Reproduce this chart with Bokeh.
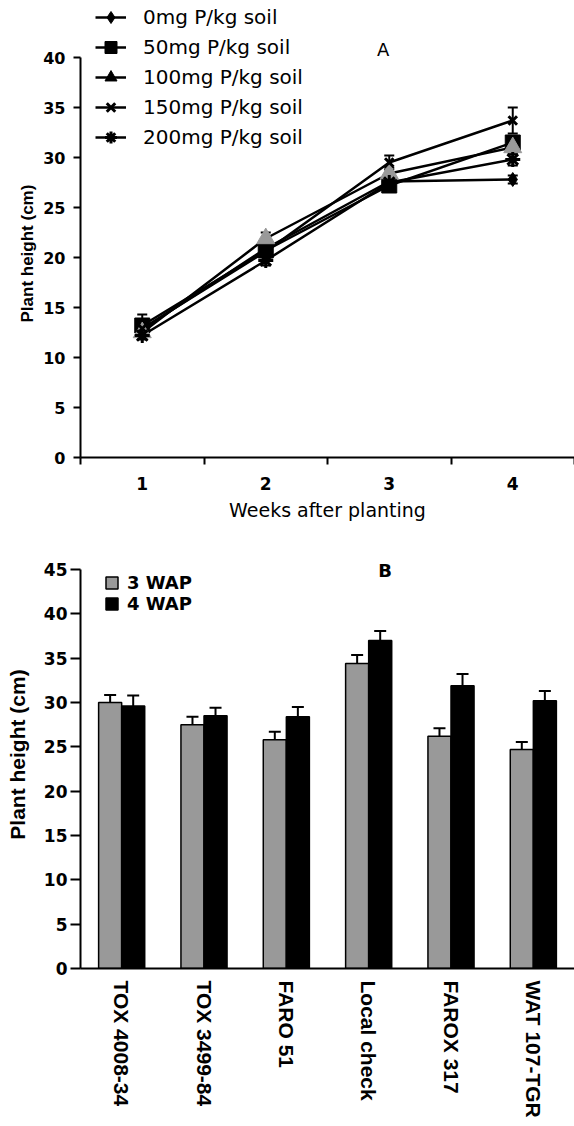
from bokeh.plotting import figure
from bokeh.models import (Range1d, FactorRange, FixedTicker, Legend, LegendItem, Label,
                          ColumnDataSource, Whisker, TeeHead, Title)
from bokeh.transform import dodge
from bokeh.layouts import column
from bokeh.embed import file_html
from bokeh.resources import INLINE

# ---------------- data: chart A ----------------
weeks = [1, 2, 3, 4]
series_names = ["0mg P/kg soil", "50mg P/kg soil", "100mg P/kg soil",
                "150mg P/kg soil", "200mg P/kg soil"]
p0 = [12.8, 20.9, 27.6, 27.8]
p50 = [13.2, 20.7, 27.2, 31.5]
p100 = [12.5, 21.9, 28.4, 31.0]
p150 = [12.9, 20.6, 29.5, 33.7]
p200 = [12.2, 19.7, 27.5, 29.8]
e0 = [0.4, 0.5, 0.5, 0.4]
e50 = [1.1, 0.5, 0.6, 0.6]
e100 = [0.5, 0.6, 0.6, 0.7]
e150 = [0.5, 0.5, 0.7, 1.3]
e200 = [0.4, 0.5, 0.5, 0.6]

# ---------------- data: chart B ----------------
cultivars = ["TOX 4008-34", "TOX 3499-84", "FARO 51", "Local check",
             "FAROX 317", "WAT 107-TGR"]
wap3 = [30.0, 27.5, 25.8, 34.4, 26.2, 24.7]
wap3_err = [0.85, 0.9, 0.9, 0.95, 0.9, 0.85]
wap4 = [29.6, 28.5, 28.4, 37.0, 31.9, 30.2]
wap4_err = [1.2, 0.9, 1.1, 1.05, 1.3, 1.1]

FONT_W = "DejaVu Sans"
FONT_A = "Liberation Sans"
INK = "black"

# ================= Chart A =================
pa = figure(width=574, height=528, x_range=Range1d(0.5, 4.5), y_range=Range1d(0, 45.7),
            output_backend="svg", toolbar_location=None,
            min_border_left=75, min_border_right=0, min_border_top=0, min_border_bottom=71)
pa.outline_line_color = None
pa.grid.visible = False

values = [p0, p50, p100, p150, p200]
errors = [e0, e50, e100, e150, e200]
markers = ["diamond", "square", "triangle", "x", "asterisk"]
sizes = [14, 15, 18, 12, 15]
fills = ["black", "black", "#999999", "black", "black"]

line_r = []
for v in values:
    line_r.append(pa.line(x=weeks, y=v, line_color="black", line_width=2.5))

for v, e in zip(values, errors):
    src = ColumnDataSource(dict(x=weeks, lo=[a - b for a, b in zip(v, e)],
                                hi=[a + b for a, b in zip(v, e)]))
    pa.add_layout(Whisker(source=src, base="x", lower="lo", upper="hi",
                          line_color="black", line_width=2,
                          upper_head=TeeHead(size=10, line_width=2, line_color="black"),
                          lower_head=TeeHead(size=10, line_width=2, line_color="black")))

mark_r = []
for v, m, s, f in zip(values, markers, sizes, fills):
    if f != "black":
        # small black copy hidden under the grey marker: used for the black legend symbol
        under = pa.scatter(x=weeks, y=v, marker=m, size=8, fill_color="black",
                           line_color="black")
    r = pa.scatter(x=weeks, y=v, marker=m, size=s, fill_color=f,
                   line_color=f, line_width=3 if m in ("x", "asterisk") else 1)
    mark_r.append(under if f != "black" else r)

items = [LegendItem(label=n, renderers=[lr, mr])
         for n, lr, mr in zip(series_names, line_r, mark_r)]
leg_a = Legend(items=items, location=(15, 305), glyph_width=31, glyph_height=30,
               label_height=30, spacing=0, padding=0, margin=0, label_standoff=17,
               border_line_color=None, background_fill_alpha=0,
               label_text_font=FONT_W, label_text_font_size="20px",
               label_text_color=INK)
pa.add_layout(leg_a)

pa.add_layout(Label(x=2.95, y=40.8, text="A", text_font=FONT_W, text_font_size="18px",
                    text_color=INK, text_align="center", text_baseline="middle"))

ya = pa.yaxis[0]
ya.ticker = FixedTicker(ticks=list(range(0, 41, 5)))
ya.bounds = (0, 40)
ya.axis_line_width = 2
ya.major_tick_line_width = 2
ya.major_tick_out = 7
ya.major_tick_in = 0
ya.minor_tick_line_color = None
ya.major_label_standoff = 8
ya.major_label_text_font = FONT_W
ya.major_label_text_font_style = "bold"
ya.major_label_text_font_size = "16px"
ya.major_label_text_color = INK

# y-axis title of chart A, centred on the 0-40 axis (not on the taller frame)
pa.add_layout(Title(text="Plant height (cm)", align="left", offset=135, standoff=8,
                    text_font=FONT_A, text_font_style="bold", text_font_size="17px",
                    text_color=INK), "left")

xa = pa.xaxis[0]
xa.ticker = FixedTicker(ticks=weeks, minor_ticks=[0.5, 1.5, 2.5, 3.5, 4.5])
xa.axis_line_width = 2
xa.major_tick_out = 0
xa.major_tick_in = 0
xa.minor_tick_out = 7
xa.minor_tick_in = 0
xa.minor_tick_line_width = 2
xa.minor_tick_line_color = "black"
xa.major_label_standoff = 12
xa.major_label_text_font = FONT_W
xa.major_label_text_font_style = "bold"
xa.major_label_text_font_size = "17px"
xa.major_label_text_color = INK
xa.axis_label = "Weeks after planting"
xa.axis_label_text_font = FONT_W
xa.axis_label_text_font_style = "normal"
xa.axis_label_text_font_size = "19px"
xa.axis_label_text_color = INK
xa.axis_label_standoff = 6

# ================= Chart B =================
pb = figure(width=574, height=598, x_range=FactorRange(factors=cultivars, range_padding=0),
            y_range=Range1d(0, 48.27), output_backend="svg", toolbar_location=None,
            min_border_left=80, min_border_right=0, min_border_top=12, min_border_bottom=158)
pb.outline_line_color = None
pb.grid.visible = False

srcb = ColumnDataSource(dict(
    cultivar=cultivars, wap3=wap3, wap4=wap4,
    lo3=[a - b for a, b in zip(wap3, wap3_err)], hi3=[a + b for a, b in zip(wap3, wap3_err)],
    lo4=[a - b for a, b in zip(wap4, wap4_err)], hi4=[a + b for a, b in zip(wap4, wap4_err)],
))

r3 = pb.vbar(x=dodge("cultivar", -0.14, range=pb.x_range), top="wap3", width=0.28,
             source=srcb, fill_color="#999999", line_color="black", line_width=1.5)
r4 = pb.vbar(x=dodge("cultivar", 0.14, range=pb.x_range), top="wap4", width=0.28,
             source=srcb, fill_color="black", line_color="black", line_width=1.5)

for off, lo, hi in [(-0.14, "lo3", "hi3"), (0.14, "lo4", "hi4")]:
    pb.add_layout(Whisker(source=srcb, base=dodge("cultivar", off, range=pb.x_range),
                          lower=lo, upper=hi, line_color="black", line_width=2,
                          upper_head=TeeHead(size=12, line_width=2, line_color="black"),
                          lower_head=TeeHead(size=12, line_width=2, line_color="black")))

leg_b = Legend(items=[LegendItem(label="3 WAP", renderers=[r3]),
                      LegendItem(label="4 WAP", renderers=[r4])],
               location=(24, 354), glyph_width=15, glyph_height=15, label_height=15,
               spacing=0, padding=0, margin=0, label_standoff=8,
               border_line_color=None, background_fill_alpha=0,
               label_text_font=FONT_W, label_text_font_style="bold",
               label_text_font_size="18px", label_text_color=INK)
pb.add_layout(leg_b)

pb.add_layout(Label(x=3.7, y=44.9, text="B", text_font=FONT_W, text_font_style="bold",
                    text_font_size="18px", text_color=INK,
                    text_align="center", text_baseline="middle"))

yb = pb.yaxis[0]
yb.ticker = FixedTicker(ticks=list(range(0, 46, 5)))
yb.bounds = (0, 45)
yb.axis_line_width = 2
yb.major_tick_line_width = 2
yb.major_tick_out = 10
yb.major_tick_in = 0
yb.minor_tick_line_color = None
yb.major_label_standoff = 3
yb.major_label_text_font = FONT_W
yb.major_label_text_font_style = "bold"
yb.major_label_text_font_size = "17px"
yb.major_label_text_color = INK
yb.axis_label = "Plant height (cm)"
yb.axis_label_text_font = FONT_A
yb.axis_label_text_font_style = "bold"
yb.axis_label_text_font_size = "21px"
yb.axis_label_text_color = INK
yb.axis_label_standoff = 12

xb = pb.xaxis[0]
xb.axis_line_width = 2
xb.major_tick_out = 0
xb.major_tick_in = 0
xb.minor_tick_line_color = None
xb.major_label_orientation = "vertical"
xb.major_label_standoff = 12
xb.major_label_text_font = FONT_A
xb.major_label_text_font_style = "bold"
xb.major_label_text_font_size = "21px"
xb.major_label_text_color = INK

layout = column(pa, pb)
open("out.html", "w").write(file_html(layout, INLINE))
